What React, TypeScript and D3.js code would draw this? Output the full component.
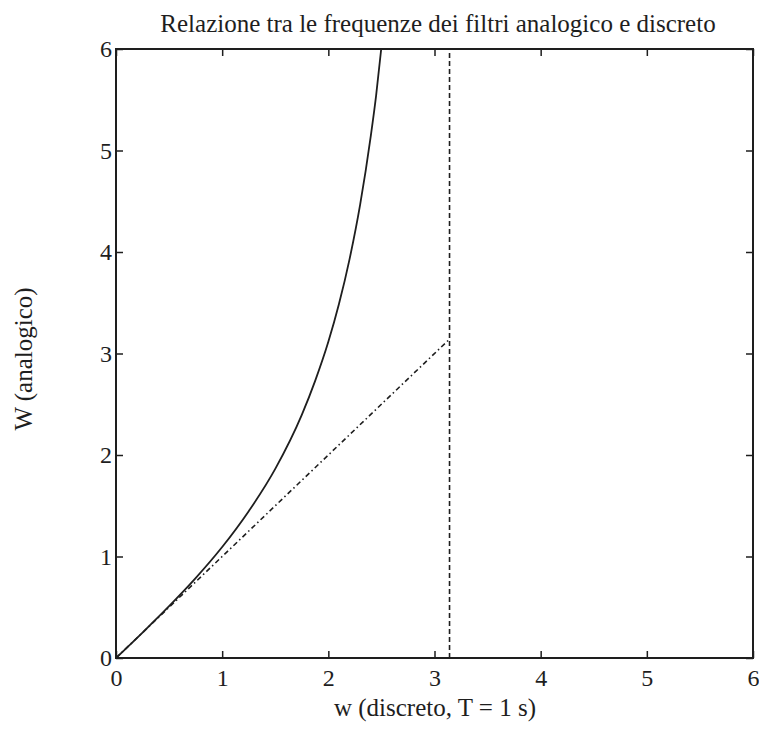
import React, { useEffect, useRef } from "react";
import * as d3 from "d3";

// curva continua (trasformazione bilineare)
const wDiscrete = [0, 0.25, 0.5, 0.75, 1.0, 1.25, 1.5, 1.75, 1.875, 2.0, 2.1, 2.2, 2.3, 2.4, 2.45, 2.498];
const wAnalog = [0, 0.251, 0.511, 0.787, 1.093, 1.446, 1.863, 2.395, 2.728, 3.115, 3.487, 3.93, 4.469, 5.144, 5.54, 6.0];

// retta W = w (tratto-punto) fino a pi
const linW = [0, 3.1416];
const linA = [0, 3.1416];

// limite verticale (tratteggio) a w = pi
const limW = [3.1416, 3.1416];
const limA = [0, 6];

const xTicks = [0, 1, 2, 3, 4, 5, 6];
const yTicks = [0, 1, 2, 3, 4, 5, 6];

const title = "Relazione tra le frequenze dei filtri analogico e discreto";
const xLabel = "w (discreto, T = 1 s)";
const yLabel = "W (analogico)";

const App = () => {
  const ref = useRef<SVGSVGElement>(null);

  useEffect(() => {
    const width = 759;
    const height = 740;
    const margin = { top: 49, right: 6, bottom: 82, left: 116 };
    const iw = width - margin.left - margin.right;
    const ih = height - margin.top - margin.bottom;
    const ink = "#1e1e1e";
    const font = "'Liberation Serif', 'Times New Roman', serif";

    const svg = d3.select(ref.current);
    svg.selectAll("*").remove();

    const x = d3.scaleLinear().domain([0, 6]).range([0, iw]);
    const y = d3.scaleLinear().domain([0, 6]).range([ih, 0]);

    const g = svg.append("g").attr("transform", `translate(${margin.left},${margin.top})`);

    const styleAxis = (sel: any) => {
      sel.select(".domain").remove();
      sel.selectAll("line").attr("stroke", ink).attr("stroke-width", 1.5);
      sel.selectAll("text").attr("fill", ink).attr("font-size", 24).attr("font-family", font);
    };

    g.append("g")
      .attr("transform", `translate(0,${ih})`)
      .call(d3.axisBottom(x).tickValues(xTicks).tickSize(-7).tickPadding(11).tickFormat(d3.format("d")))
      .call(styleAxis);
    g.append("g")
      .call(d3.axisTop(x).tickValues(xTicks).tickSize(-7).tickFormat(() => ""))
      .call(styleAxis);
    g.append("g")
      .call(d3.axisLeft(y).tickValues(yTicks).tickSize(-7).tickPadding(4).tickFormat(d3.format("d")))
      .call(styleAxis);
    g.append("g")
      .attr("transform", `translate(${iw},0)`)
      .call(d3.axisRight(y).tickValues(yTicks).tickSize(-7).tickFormat(() => ""))
      .call(styleAxis);

    g.append("rect")
      .attr("width", iw)
      .attr("height", ih)
      .attr("fill", "none")
      .attr("stroke", ink)
      .attr("stroke-width", 2);

    const line = d3.line<[number, number]>()
      .x(d => x(d[0]))
      .y(d => y(d[1]));

    const curvePts = wDiscrete.map((w, i) => [w, wAnalog[i]] as [number, number]);
    g.append("path")
      .attr("d", line.curve(d3.curveMonotoneX)(curvePts))
      .attr("fill", "none")
      .attr("stroke", ink)
      .attr("stroke-width", 1.8);

    const linePlain = d3.line<[number, number]>().x(d => x(d[0])).y(d => y(d[1]));

    g.append("path")
      .attr("d", linePlain(linW.map((w, i) => [w, linA[i]] as [number, number])))
      .attr("fill", "none")
      .attr("stroke", ink)
      .attr("stroke-width", 1.6)
      .attr("stroke-dasharray", "5,3,1.5,3");

    g.append("path")
      .attr("d", linePlain(limW.map((w, i) => [w, limA[i]] as [number, number])))
      .attr("fill", "none")
      .attr("stroke", ink)
      .attr("stroke-width", 1.6)
      .attr("stroke-dasharray", "5,3");

    svg.append("text")
      .attr("x", 438)
      .attr("y", 32)
      .attr("text-anchor", "middle")
      .attr("font-family", font)
      .attr("font-size", 25)
      .attr("fill", ink)
      .text(title);

    svg.append("text")
      .attr("x", 435)
      .attr("y", 716)
      .attr("text-anchor", "middle")
      .attr("font-family", font)
      .attr("font-size", 25)
      .attr("fill", ink)
      .text(xLabel);

    svg.append("text")
      .attr("transform", `translate(32,359) rotate(-90)`)
      .attr("text-anchor", "middle")
      .attr("font-family", font)
      .attr("font-size", 25)
      .attr("fill", ink)
      .text(yLabel);
  }, []);

  return (
    <svg
      ref={ref}
      width={759}
      height={740}
      style={{ position: "absolute", left: 0, top: 0, background: "#fff" }}
    ></svg>
  );
};

export default App;
